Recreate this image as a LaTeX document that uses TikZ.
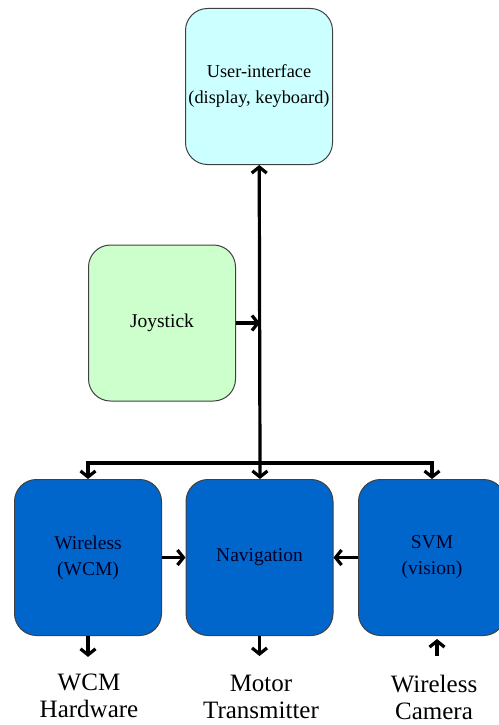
\documentclass[tikz,border=0pt]{standalone}
\usepackage{fontspec}
\setmainfont{Liberation Serif}
\usetikzlibrary{arrows.meta}

\definecolor{uicyan}{HTML}{CCFFFF}
\definecolor{joygreen}{HTML}{CCFFCC}
\definecolor{modblue}{HTML}{0066CC}

\begin{document}
\begin{tikzpicture}[x=1pt, y=-1pt,
  >={Straight Barb[length=6pt,width=15pt]},
  block/.style={draw=black!75, line width=1pt, rounded corners=22pt,
    minimum width=147pt, minimum height=156pt, inner sep=0pt,
    align=center, font=\rmfamily\fontsize{19.5}{26}\selectfont},
  modbox/.style={block, fill=modblue, text=black!85!blue},
  wire/.style={line width=3.2pt},
  outlabel/.style={align=center, inner sep=2pt, font=\rmfamily\fontsize{25}{27}\selectfont}]
\useasboundingbox (0,0) rectangle (498,725);

% top and left boxes
\node[block, fill=uicyan, font=\rmfamily\fontsize{18.3}{26}\selectfont] (ui) at (259,86.5) {User-interface\\(display, keyboard)};
\node[block, fill=joygreen] (joy) at (162,323) {Joystick};

% module row
\node[modbox] (wcm) at (88,557.5) {Wireless\\(WCM)};
\node[modbox] (nav) at (259.5,557.5) {Navigation};
\node[modbox] (svm) at (432,557.5) {SVM\\(vision)};

% labels under the modules
\node[outlabel] (hw) at (89,696) {WCM\\Hardware};
\node[outlabel] (tx) at (261,697) {Motor\\Transmitter};
\node[outlabel] (cam) at (434,697) {Wireless\\Camera};

% bus
\coordinate (bus) at (260,463);
\draw[wire,<-] (ui) -- (bus);
\draw[wire,->] (bus) -- (nav);
\draw[wire,->] (bus) -| (wcm);
\draw[wire,->] (bus) -| (svm);
\draw[wire,->] (joy.east) -- (joy.east -| bus);

\draw[wire,->] (wcm.east) -- (nav.west);
\draw[wire,->] (svm.west) -- (nav.east);

\draw[wire,->,shorten >=15pt] (wcm.south) -- (wcm.south |- hw.north);
\draw[wire,->,shorten >=17pt] (nav.south) -- (nav.south |- tx.north);
\draw[wire,->,shorten <=17pt,shorten >=3pt] ([xshift=3pt]cam.north) -- ([xshift=3pt]cam.north |- svm.south);
\end{tikzpicture}
\end{document}
